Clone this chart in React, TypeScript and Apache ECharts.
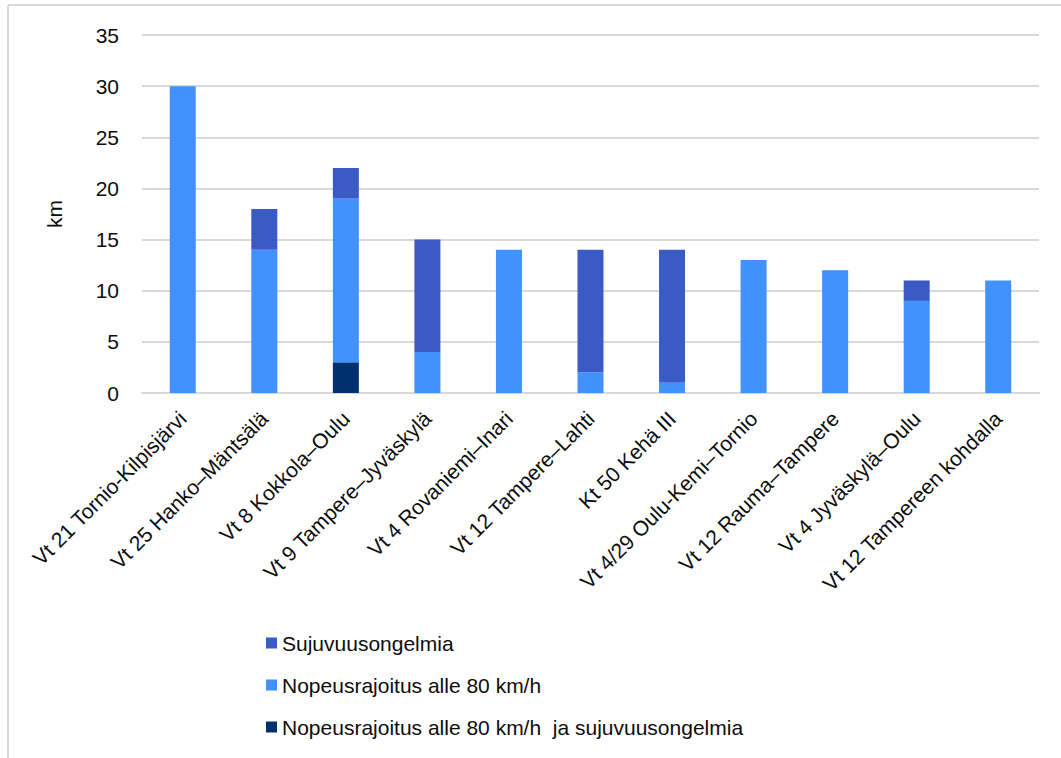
import React, { useEffect, useRef } from "react";
import * as echarts from "echarts";

const categories = [
  "Vt 21 Tornio-Kilpisjärvi",
  "Vt 25 Hanko–Mäntsälä",
  "Vt 8 Kokkola–Oulu",
  "Vt 9 Tampere–Jyväskylä",
  "Vt 4 Rovaniemi–Inari",
  "Vt 12 Tampere–Lahti",
  "Kt 50 Kehä III",
  "Vt 4/29 Oulu-Kemi–Tornio",
  "Vt 12 Rauma–Tampere",
  "Vt 4 Jyväskylä–Oulu",
  "Vt 12 Tampereen kohdalla",
];

const seriesNames = [
  "Sujuvuusongelmia",
  "Nopeusrajoitus alle 80 km/h",
  "Nopeusrajoitus alle 80 km/h  ja sujuvuusongelmia",
];

// bottom segment
const bothValues = [0, 0, 3, 0, 0, 0, 0, 0, 0, 0, 0];
// middle segment
const speedLimitValues = [30, 14, 16, 4, 14, 2, 1, 13, 12, 9, 11];
// top segment
const flowValues = [0, 4, 3, 11, 0, 12, 13, 0, 0, 2, 0];

const yTicks = { min: 0, max: 35, interval: 5 };

const FONT = "'Liberation Sans', Arial, sans-serif";

const nz = (arr: number[]) => arr.map((v) => (v === 0 ? null : v));

export default function App() {
  const ref = useRef<HTMLDivElement>(null);

  useEffect(() => {
    if (!ref.current) return;
    const chart = echarts.init(ref.current, undefined, { renderer: "svg" });
    chart.setOption({
      animation: false,
      backgroundColor: "#ffffff",
      textStyle: { fontFamily: FONT },
      grid: { left: 142, right: 22, top: 35, bottom: 365, containLabel: false },
      graphic: [
        {
          type: "line",
          shape: { x1: 8, y1: 5, x2: 1061, y2: 5 },
          style: { stroke: "#d9d9d9", lineWidth: 2 },
        },
        {
          type: "line",
          shape: { x1: 8, y1: 5, x2: 8, y2: 758 },
          style: { stroke: "#d9d9d9", lineWidth: 2 },
        },
      ],
      legend: {
        orient: "vertical",
        left: 261,
        top: 627,
        itemWidth: 11,
        itemHeight: 11,
        itemGap: 20,
        icon: "rect",
        data: seriesNames,
        textStyle: {
          fontFamily: FONT,
          fontSize: 21,
          lineHeight: 22,
          color: "#0d0d0d",
        },
      },
      xAxis: {
        type: "category",
        data: categories,
        axisLine: { show: true, lineStyle: { color: "#d9d9d9", width: 2 } },
        axisTick: { show: false },
        axisLabel: {
          rotate: 45,
          margin: 22,
          interval: 0,
          fontFamily: FONT,
          fontSize: 21,
          color: "#0d0d0d",
        },
      },
      yAxis: {
        type: "value",
        min: yTicks.min,
        max: yTicks.max,
        interval: yTicks.interval,
        name: "km",
        nameLocation: "middle",
        nameRotate: 90,
        nameGap: 77,
        nameTextStyle: { fontFamily: FONT, fontSize: 21, color: "#0d0d0d" },
        axisLine: { show: false },
        axisTick: { show: false },
        axisLabel: { margin: 23, fontFamily: FONT, fontSize: 21, color: "#0d0d0d" },
        splitLine: { lineStyle: { color: "#d9d9d9", width: 2 } },
      },
      series: [
        {
          name: seriesNames[2],
          type: "bar",
          stack: "total",
          barWidth: 26,
          data: nz(bothValues),
          itemStyle: { color: "#00306e" },
        },
        {
          name: seriesNames[1],
          type: "bar",
          stack: "total",
          barWidth: 26,
          data: nz(speedLimitValues),
          itemStyle: { color: "#4191ff" },
        },
        {
          name: seriesNames[0],
          type: "bar",
          stack: "total",
          barWidth: 26,
          data: nz(flowValues),
          itemStyle: { color: "#3a5bc4" },
        },
      ],
    });
    return () => chart.dispose();
  }, []);

  return (
    <div
      ref={ref}
      style={{ position: "absolute", left: 0, top: 0, width: 1061, height: 758 }}
    />
  );
}
